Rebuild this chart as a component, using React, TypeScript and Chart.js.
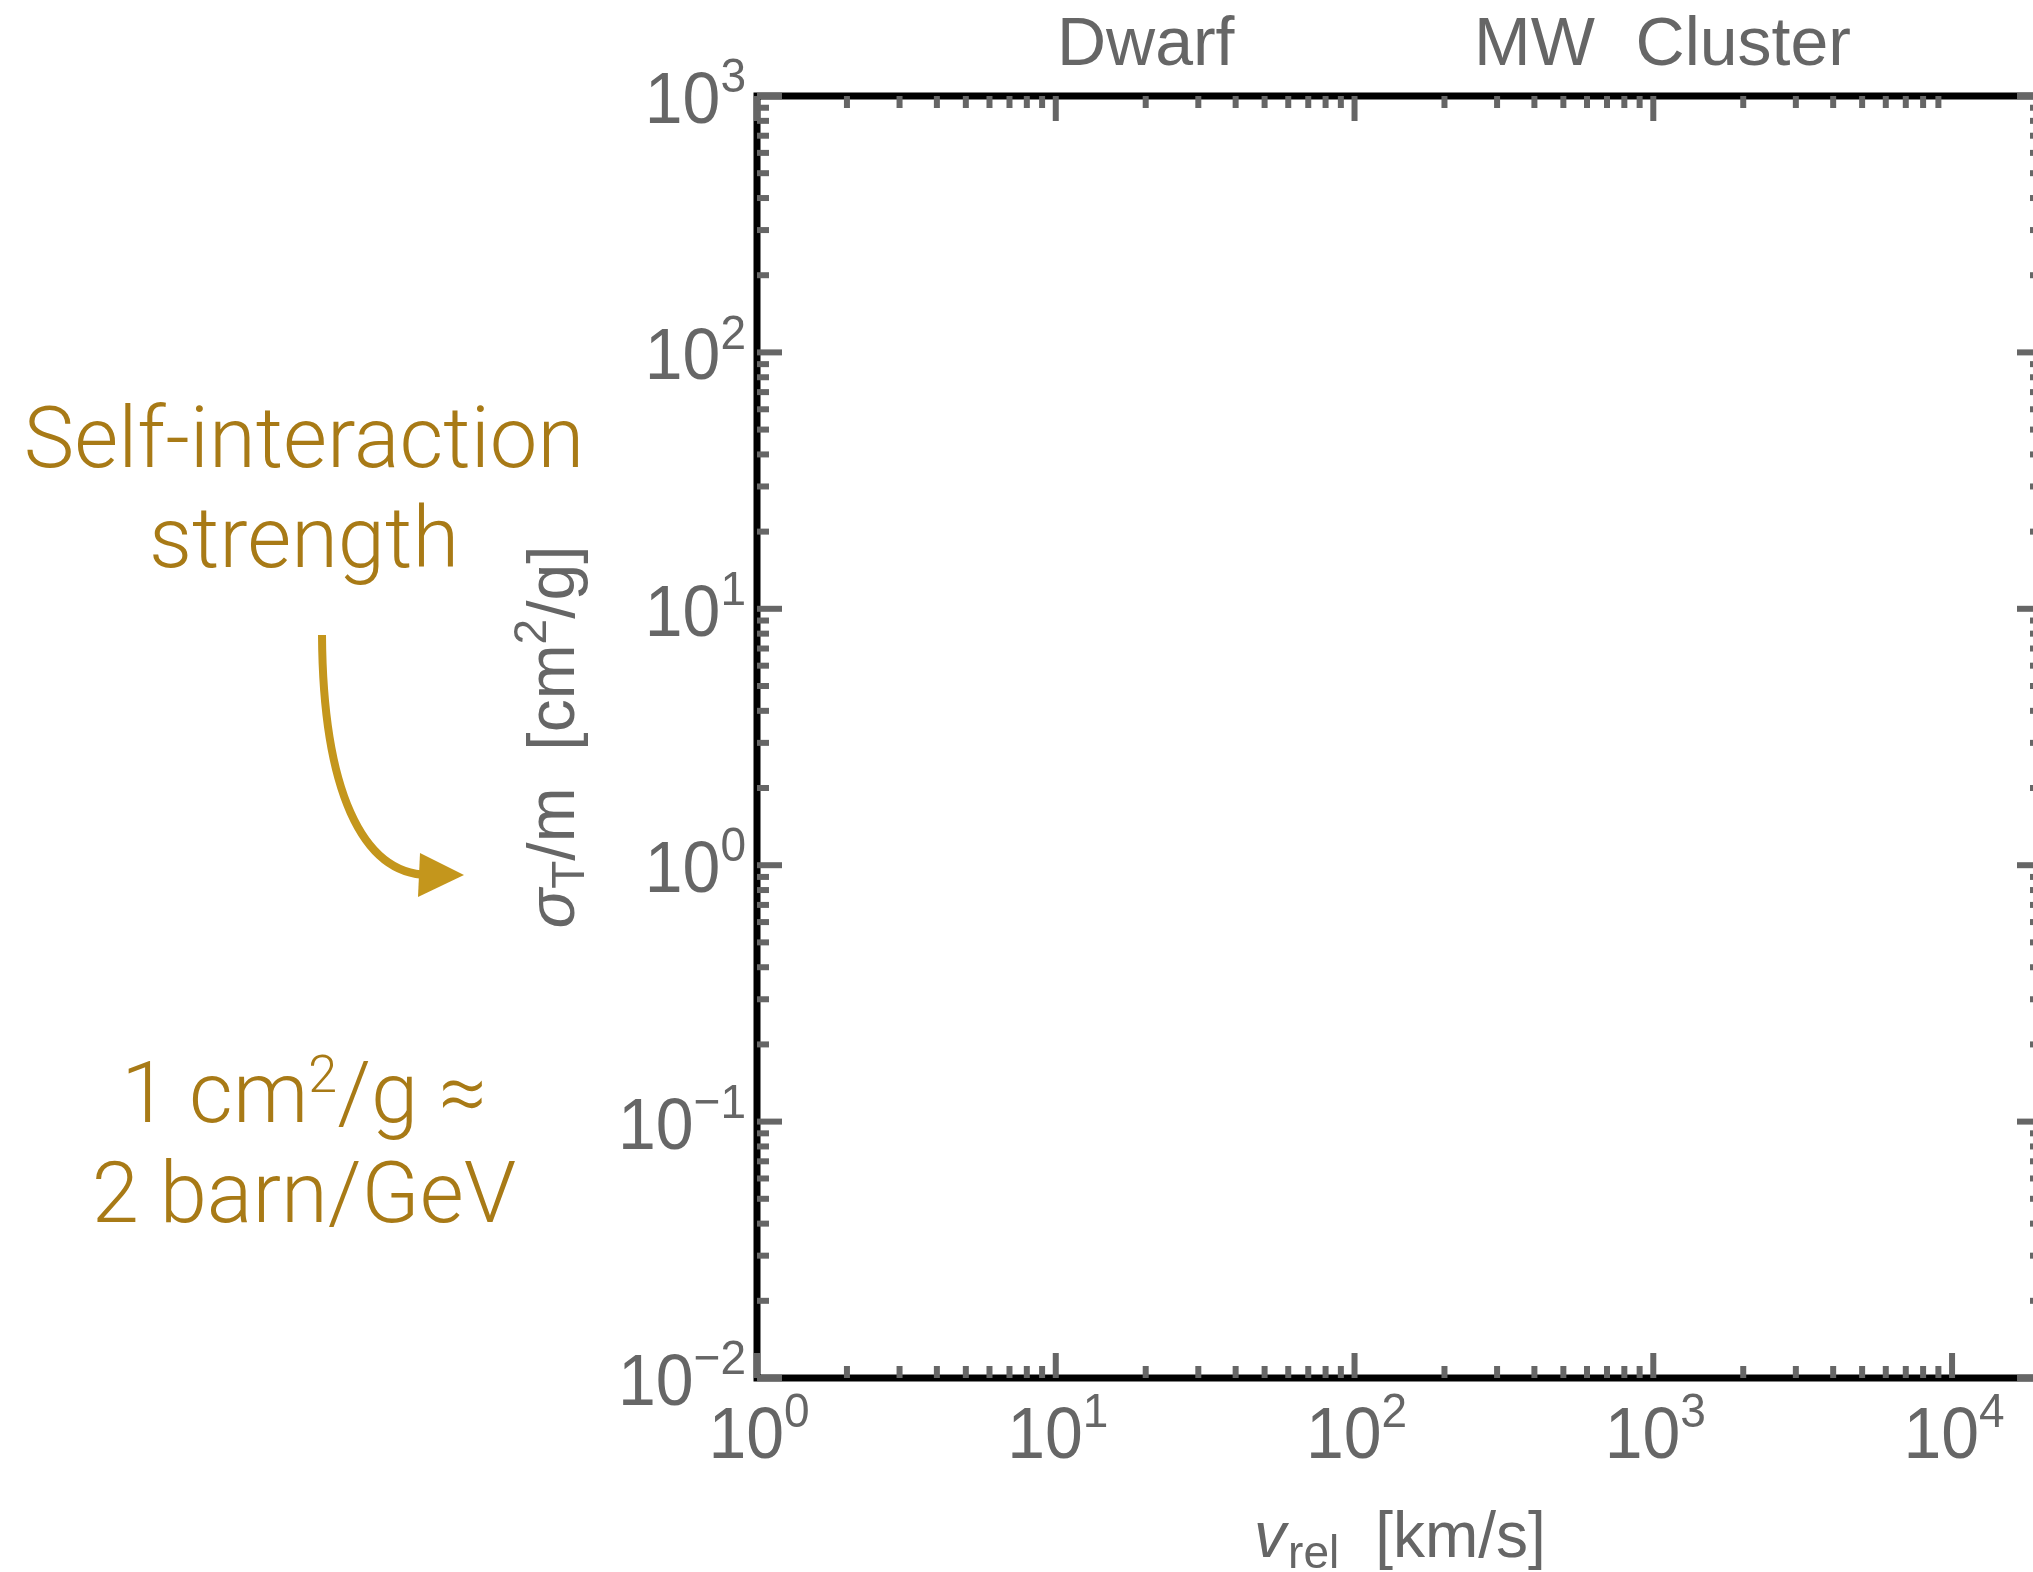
import React, { useEffect, useRef } from "react";
import { Chart, registerables } from "chart.js";

Chart.register(...registerables);

// ---------- data ----------
const X_MIN = 1;
const X_MAX = 20000;
const Y_MIN = 0.01;
const Y_MAX = 1000;

const xMajorBottom = [1, 10, 100, 1000, 10000];
const xMajorBottomExp = ["0", "1", "2", "3", "4"];
const xMajorTop = [1, 10, 100, 1000];
const xMinorDecades = [1, 10, 100, 1000];
const yMajor = [0.01, 0.1, 1, 10, 100, 1000];
const yMajorExp = ["\u22122", "\u22121", "0", "1", "2", "3"];
const yMinorDecades = [0.01, 0.1, 1, 10, 100];
const minorMultipliers = [2, 3, 4, 5, 6, 7, 8, 9];

const regimeLabels = ["Dwarf", "MW", "Cluster"];
const regimeVelocities = [20, 400, 2000];

// The plotted cross-section curve set is empty in this figure
const crossSectionPoints: { x: number; y: number }[] = [];

// ---------- styles ----------
const GRAY = "#666666";
const GOLD_TEXT = "#A87A16";
const GOLD_ARROW = "#C4961C";
const SANS = "'Liberation Sans', Arial, Helvetica, sans-serif";
const LIGHT = "Roboto, 'Liberation Sans', sans-serif";

type Seg = { text: string; size: number; dy?: number; italic?: boolean; gap?: number };

function drawSegs(
  ctx: CanvasRenderingContext2D,
  segs: Seg[],
  x: number,
  y: number,
  align: "left" | "center" | "right",
  family: string,
  weight: string,
  color: string,
  scaleY = 1
) {
  ctx.save();
  ctx.translate(x, y);
  ctx.scale(1, scaleY);
  ctx.fillStyle = color;
  ctx.textBaseline = "alphabetic";
  ctx.textAlign = "left";
  const fontOf = (s: Seg) => `${s.italic ? "italic " : ""}${weight} ${s.size}px ${family}`;
  let total = 0;
  const widths = segs.map((s) => {
    ctx.font = fontOf(s);
    const w = ctx.measureText(s.text).width + (s.gap ?? 0);
    total += w;
    return w;
  });
  let cx = align === "left" ? 0 : align === "center" ? -total / 2 : -total;
  segs.forEach((s, i) => {
    ctx.font = fontOf(s);
    ctx.fillText(s.text, cx, s.dy ?? 0);
    cx += widths[i];
  });
  ctx.restore();
}

const framePlugin = {
  id: "framePlugin",
  afterDraw(chart: any) {
    const ctx: CanvasRenderingContext2D = chart.ctx;
    const xs = chart.scales.x;
    const ys = chart.scales.y;
    const { left, right, top, bottom } = chart.chartArea;

    // frame
    ctx.save();
    ctx.strokeStyle = "#000";
    ctx.lineWidth = 7;
    ctx.strokeRect(left, top, right - left, bottom - top);
    ctx.restore();

    // ticks
    const MAJ = 25;
    const MIN = 12;
    ctx.save();
    ctx.strokeStyle = GRAY;
    ctx.lineWidth = 6;
    ctx.lineCap = "butt";
    const seg = (x1: number, y1: number, x2: number, y2: number) => {
      ctx.beginPath();
      ctx.moveTo(x1, y1);
      ctx.lineTo(x2, y2);
      ctx.stroke();
    };
    xMinorDecades.forEach((d) =>
      minorMultipliers.forEach((m) => {
        const px = xs.getPixelForValue(d * m);
        seg(px, bottom, px, bottom - MIN);
        seg(px, top, px, top + MIN);
      })
    );
    xMajorBottom.forEach((v) => {
      const px = xs.getPixelForValue(v);
      seg(px, bottom, px, bottom - MAJ);
    });
    xMajorTop.forEach((v) => {
      const px = xs.getPixelForValue(v);
      seg(px, top, px, top + MAJ);
    });
    yMinorDecades.forEach((d) =>
      minorMultipliers.forEach((m) => {
        const py = ys.getPixelForValue(d * m);
        seg(left, py, left + MIN, py);
        seg(right, py, right - MIN, py);
      })
    );
    yMajor.forEach((v) => {
      const py = ys.getPixelForValue(v);
      seg(left, py, left + MAJ, py);
      seg(right, py, right - MAJ, py);
    });
    ctx.restore();

    // tick labels
    xMajorBottom.forEach((v, i) => {
      const px = xs.getPixelForValue(v);
      drawSegs(
        ctx,
        [
          { text: "10", size: 68 },
          { text: xMajorBottomExp[i], size: 46, dy: -29 },
        ],
        px + 2,
        bottom + 80,
        "center",
        SANS,
        "normal",
        GRAY,
        1.06
      );
    });
    yMajor.forEach((v, i) => {
      const py = ys.getPixelForValue(v);
      drawSegs(
        ctx,
        [
          { text: "10", size: 68 },
          { text: yMajorExp[i], size: 46, dy: -29 },
        ],
        left - 11,
        py + 27,
        "right",
        SANS,
        "normal",
        GRAY,
        1.06
      );
    });

    // regime labels on top
    regimeLabels.forEach((lab, i) => {
      const px = xs.getPixelForValue(regimeVelocities[i]);
      drawSegs(ctx, [{ text: lab, size: 68 }], px, top - 31, "center", SANS, "normal", GRAY);
    });

    // x title
    drawSegs(
      ctx,
      [
        { text: "v", size: 64, italic: true, gap: 2 },
        { text: "rel", size: 46, dy: 11, gap: 36 },
        { text: "[km/s]", size: 64 },
      ],
      (left + 2031) / 2 + 6,
      1557,
      "center",
      SANS,
      "normal",
      GRAY
    );

    // y title
    ctx.save();
    ctx.translate(574, (top + bottom) / 2);
    ctx.rotate(-Math.PI / 2);
    drawSegs(
      ctx,
      [
        { text: "\u03C3", size: 66, italic: true },
        { text: "T", size: 46, dy: 10 },
        { text: "/m  [cm", size: 66 },
        { text: "2", size: 46, dy: -28 },
        { text: "/g]", size: 66 },
      ],
      0,
      0,
      "center",
      SANS,
      "normal",
      GRAY
    );
    ctx.restore();

    // annotation on the left
    const cxText = 304;
    drawSegs(ctx, [{ text: "Self-interaction", size: 85 }], cxText, 467, "center", LIGHT, "300", GOLD_TEXT);
    drawSegs(ctx, [{ text: "strength", size: 85 }], cxText, 567, "center", LIGHT, "300", GOLD_TEXT);
    drawSegs(
      ctx,
      [
        { text: "1 cm", size: 85 },
        { text: "2", size: 52, dy: -30 },
        { text: "/g \u2248", size: 85 },
      ],
      cxText,
      1122,
      "center",
      LIGHT,
      "300",
      GOLD_TEXT
    );
    drawSegs(ctx, [{ text: "2 barn/GeV", size: 85 }], cxText, 1222, "center", LIGHT, "300", GOLD_TEXT);

    // curved arrow
    ctx.save();
    ctx.strokeStyle = GOLD_ARROW;
    ctx.fillStyle = GOLD_ARROW;
    ctx.lineWidth = 8;
    ctx.beginPath();
    ctx.moveTo(322, 635);
    ctx.bezierCurveTo(323, 790, 362, 874, 428, 875);
    ctx.stroke();
    ctx.beginPath();
    ctx.moveTo(464, 875);
    ctx.lineTo(420, 853);
    ctx.lineTo(418, 897);
    ctx.closePath();
    ctx.fill();
    ctx.restore();
  },
};

export default function App() {
  const canvasRef = useRef<HTMLCanvasElement | null>(null);

  useEffect(() => {
    if (!canvasRef.current) return;
    const chart = new Chart(canvasRef.current, {
      type: "scatter",
      data: {
        datasets: [
          {
            label: "sigma_T/m",
            data: crossSectionPoints,
            borderColor: "#000",
            backgroundColor: "#000",
            showLine: true,
          },
        ],
      },
      options: {
        responsive: false,
        animation: false,
        devicePixelRatio: 1,
        layout: { padding: { left: 757, top: 96, right: 18, bottom: 194 } },
        plugins: {
          legend: { display: false },
          tooltip: { enabled: false },
          title: { display: false },
        },
        scales: {
          x: { type: "logarithmic", min: X_MIN, max: X_MAX, display: false },
          y: { type: "logarithmic", min: Y_MIN, max: Y_MAX, display: false },
        },
      },
      plugins: [framePlugin],
    });
    return () => chart.destroy();
  }, []);

  return (
    <div
      style={{
        position: "fixed",
        left: 0,
        top: 0,
        width: 2033,
        height: 1572,
        overflow: "hidden",
        background: "#fff",
      }}
    >
      <canvas ref={canvasRef} width={2060} height={1572} style={{ display: "block" }} />
    </div>
  );
}
